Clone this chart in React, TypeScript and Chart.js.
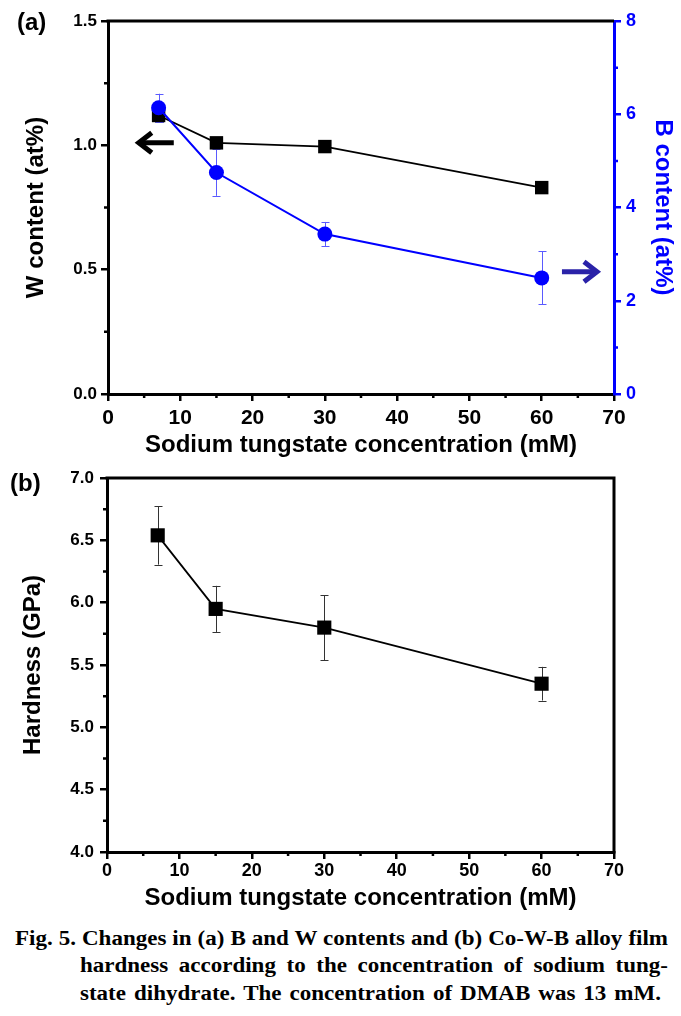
import React, { useEffect, useRef } from 'react';
import { Chart, registerables } from 'chart.js';

Chart.register(...registerables);

// ---------- data ----------
const concentrations = [7, 15, 30, 60];
const wContent = [1.12, 1.01, 0.995, 0.83];
const wError = [0.027, 0.02, 0.02, 0.02];
const bContent = [6.14, 4.75, 3.43, 2.49];
const bError = [0.3, 0.5, 0.26, 0.57];
const hardness = [6.54, 5.95, 5.8, 5.35];
const hardnessError = [0.235, 0.185, 0.26, 0.135];

const xMinorTicks = [5, 15, 25, 35, 45, 55, 65];
const wMinorTicks = [0.25, 0.75, 1.25];
const bMinorTicks = [1, 3, 5, 7];
const hMinorTicks = [4.25, 4.75, 5.25, 5.75, 6.25, 6.75];

const xTitle = 'Sodium tungstate concentration (mM)';
const wTitle = 'W content (at%)';
const bTitle = 'B content (at%)';
const hTitle = 'Hardness (GPa)';

const SANS = "'Liberation Sans', Arial, Helvetica, sans-serif";
const BLUE = '#0000ff';
const W = 681;
const H_A = 460;
const H_B = 460;

// ---------- plugins ----------
const errorBarPlugin = {
  id: 'errorBars',
  beforeDatasetsDraw(chart: any) {
    const ctx = chart.ctx;
    chart.data.datasets.forEach((ds: any, i: number) => {
      if (!ds.errorBars) return;
      const meta = chart.getDatasetMeta(i);
      const ys = chart.scales[meta.yAxisID];
      ctx.save();
      ctx.strokeStyle = ds.errorColor || '#000';
      ctx.lineWidth = 1;
      meta.data.forEach((pt: any, j: number) => {
        const v = ds.data[j].y;
        const e = ds.errorBars[j];
        const x = Math.round(pt.x) + 0.5;
        const top = ys.getPixelForValue(v + e);
        const bot = ys.getPixelForValue(v - e);
        ctx.beginPath();
        ctx.moveTo(x, top);
        ctx.lineTo(x, bot);
        ctx.moveTo(x - 4, Math.round(top) + 0.5);
        ctx.lineTo(x + 4, Math.round(top) + 0.5);
        ctx.moveTo(x - 4, Math.round(bot) + 0.5);
        ctx.lineTo(x + 4, Math.round(bot) + 0.5);
        ctx.stroke();
      });
      ctx.restore();
    });
  },
};

function minorTicks(ctx: any, scale: any, values: number[], side: string, color: string) {
  ctx.save();
  ctx.strokeStyle = color;
  ctx.lineWidth = 2.5;
  ctx.beginPath();
  values.forEach((v) => {
    const p = scale.getPixelForValue(v);
    if (side === 'bottom') {
      ctx.moveTo(p, scale.top);
      ctx.lineTo(p, scale.top + 4);
    } else if (side === 'left') {
      ctx.moveTo(scale.right, p);
      ctx.lineTo(scale.right - 4, p);
    } else {
      ctx.moveTo(scale.left, p);
      ctx.lineTo(scale.left + 4, p);
    }
  });
  ctx.stroke();
  ctx.restore();
}

function drawArrow(ctx: any, xTail: number, xTip: number, y: number, color: string) {
  const dir = xTip > xTail ? 1 : -1;
  ctx.save();
  ctx.strokeStyle = color;
  ctx.lineWidth = 5;
  ctx.lineCap = 'butt';
  ctx.lineJoin = 'miter';
  ctx.beginPath();
  ctx.moveTo(xTail, y);
  ctx.lineTo(xTip - dir * 4, y);
  ctx.stroke();
  ctx.beginPath();
  ctx.moveTo(xTip - dir * 17, y - 10);
  ctx.lineTo(xTip - dir * 4, y);
  ctx.lineTo(xTip - dir * 17, y + 10);
  ctx.stroke();
  ctx.restore();
}

function text(ctx: any, s: string, x: number, y: number, opts: any) {
  ctx.save();
  ctx.font = `bold ${opts.size}px ${SANS}`;
  ctx.fillStyle = opts.color || '#000';
  ctx.textAlign = opts.align || 'center';
  ctx.textBaseline = opts.baseline || 'middle';
  ctx.translate(x, y);
  if (opts.rotate) ctx.rotate(opts.rotate);
  ctx.fillText(s, 0, 0);
  ctx.restore();
}

const frameA = {
  id: 'frameA',
  afterDraw(chart: any) {
    const ctx = chart.ctx;
    const a = chart.chartArea;
    const { x, y, y1 } = chart.scales;
    ctx.save();
    ctx.strokeStyle = '#000';
    ctx.lineWidth = 3;
    ctx.beginPath();
    ctx.moveTo(a.left - 1.5, a.top);
    ctx.lineTo(a.right, a.top);
    ctx.stroke();
    ctx.restore();
    minorTicks(ctx, x, xMinorTicks, 'bottom', '#000');
    minorTicks(ctx, y, wMinorTicks, 'left', '#000');
    minorTicks(ctx, y1, bMinorTicks, 'right', BLUE);
    // arrows
    drawArrow(ctx, x.getPixelForValue(9.1), x.getPixelForValue(3.7), y.getPixelForValue(1.01), '#000');
    drawArrow(ctx, x.getPixelForValue(62.8), x.getPixelForValue(68.2), y1.getPixelForValue(2.62), '#2a22a8');
    // titles
    text(ctx, xTitle, (a.left + a.right) / 2, 452, { size: 24, baseline: 'alphabetic' });
    text(ctx, wTitle, 36, (a.top + a.bottom) / 2, { size: 24, rotate: -Math.PI / 2 });
    text(ctx, bTitle, 663, (a.top + a.bottom) / 2, { size: 24, rotate: Math.PI / 2, color: BLUE });
    text(ctx, '(a)', 17, 23, { size: 24, align: 'left' });
  },
};

const frameB = {
  id: 'frameB',
  afterDraw(chart: any) {
    const ctx = chart.ctx;
    const a = chart.chartArea;
    const { x, y } = chart.scales;
    ctx.save();
    ctx.strokeStyle = '#000';
    ctx.lineWidth = 3;
    ctx.beginPath();
    ctx.moveTo(a.left - 1.5, a.top);
    ctx.lineTo(a.right, a.top);
    ctx.lineTo(a.right, a.bottom + 1.5);
    ctx.stroke();
    ctx.restore();
    minorTicks(ctx, x, xMinorTicks, 'bottom', '#000');
    minorTicks(ctx, y, hMinorTicks, 'left', '#000');
    text(ctx, xTitle, (a.left + a.right) / 2, 445, { size: 24, baseline: 'alphabetic' });
    text(ctx, hTitle, 33, (a.top + a.bottom) / 2, { size: 24, rotate: -Math.PI / 2 });
    text(ctx, '(b)', 10, 24, { size: 24, align: 'left' });
  },
};

function axisCommon(color: string, size: number, padding: number) {
  return {
    ticks: { color, font: { family: SANS, weight: 'bold' as const, size }, padding },
    grid: { drawOnChartArea: false, drawTicks: true, tickLength: 7, lineWidth: 2.5, color },
    border: { display: true, color, width: 3 },
  };
}

function ChartA() {
  const ref = useRef<HTMLCanvasElement>(null);
  useEffect(() => {
    const xc = axisCommon('#000', 21, 5);
    const yc = axisCommon('#000', 17, 4);
    const y1c = axisCommon(BLUE, 18, 5);
    const chart = new Chart(ref.current!, {
      type: 'line',
      data: {
        datasets: [
          {
            label: 'W content',
            data: concentrations.map((c, i) => ({ x: c, y: wContent[i] })),
            yAxisID: 'y',
            borderColor: '#000',
            backgroundColor: '#000',
            borderWidth: 1.8,
            pointStyle: 'rect',
            pointRadius: 9.5,
            pointBorderWidth: 0,
            order: 2,
            errorBars: wError,
            errorColor: '#000',
          } as any,
          {
            label: 'B content',
            data: concentrations.map((c, i) => ({ x: c, y: bContent[i] })),
            yAxisID: 'y1',
            borderColor: BLUE,
            backgroundColor: BLUE,
            borderWidth: 2,
            pointStyle: 'circle',
            pointRadius: 7.5,
            pointBorderWidth: 0,
            order: 1,
            errorBars: bError,
            errorColor: '#5a5aff',
          } as any,
        ],
      },
      options: {
        responsive: false,
        animation: false,
        devicePixelRatio: 1,
        events: [],
        layout: { padding: { top: 21, left: 0, right: 0, bottom: 0 } },
        plugins: { legend: { display: false }, tooltip: { enabled: false } },
        scales: {
          x: {
            type: 'linear',
            min: 0,
            max: 70,
            ...xc,
            ticks: { ...xc.ticks, stepSize: 10 },
            afterFit: (s: any) => { s.height = H_A - 394; },
          },
          y: {
            type: 'linear',
            position: 'left',
            min: 0,
            max: 1.5,
            ...yc,
            ticks: { ...yc.ticks, stepSize: 0.5, callback: (v: any) => Number(v).toFixed(1) },
            afterFit: (s: any) => { s.width = 108; },
          },
          y1: {
            type: 'linear',
            position: 'right',
            min: 0,
            max: 8,
            ...y1c,
            ticks: { ...y1c.ticks, stepSize: 2 },
            afterFit: (s: any) => { s.width = W - 614; },
          },
        },
      } as any,
      plugins: [errorBarPlugin, frameA],
    });
    return () => chart.destroy();
  }, []);
  return (
    <canvas
      ref={ref}
      width={W}
      height={H_A}
      style={{ position: 'absolute', left: 0, top: 0, width: W, height: H_A }}
    />
  );
}

function ChartB() {
  const ref = useRef<HTMLCanvasElement>(null);
  useEffect(() => {
    const xc = axisCommon('#000', 18, 1);
    const yc = axisCommon('#000', 17, 6);
    const chart = new Chart(ref.current!, {
      type: 'line',
      data: {
        datasets: [
          {
            label: 'Hardness',
            data: concentrations.map((c, i) => ({ x: c, y: hardness[i] })),
            borderColor: '#000',
            backgroundColor: '#000',
            borderWidth: 1.8,
            pointStyle: 'rect',
            pointRadius: 10,
            pointBorderWidth: 0,
            errorBars: hardnessError,
            errorColor: '#333',
          } as any,
        ],
      },
      options: {
        responsive: false,
        animation: false,
        devicePixelRatio: 1,
        events: [],
        layout: { padding: { top: 18, left: 0, right: W - 614, bottom: 0 } },
        plugins: { legend: { display: false }, tooltip: { enabled: false } },
        scales: {
          x: {
            type: 'linear',
            min: 0,
            max: 70,
            ...xc,
            ticks: { ...xc.ticks, stepSize: 10 },
            afterFit: (s: any) => { s.height = H_B - 392; },
          },
          y: {
            type: 'linear',
            position: 'left',
            min: 4,
            max: 7,
            ...yc,
            ticks: { ...yc.ticks, stepSize: 0.5, callback: (v: any) => Number(v).toFixed(1) },
            afterFit: (s: any) => { s.width = 107; },
          },
        },
      } as any,
      plugins: [errorBarPlugin, frameB],
    });
    return () => chart.destroy();
  }, []);
  return (
    <canvas
      ref={ref}
      width={W}
      height={H_B}
      style={{ position: 'absolute', left: 0, top: H_A, width: W, height: H_B }}
    />
  );
}

const captionLines = [
  'Fig. 5. Changes in (a) B and W contents and (b) Co-W-B alloy film',
  'hardness according to the concentration of sodium tung-',
  'state dihydrate. The concentration of DMAB was 13 mM.',
];
const captionLeft = [15, 80, 80];
const captionRight = [668, 668, 661];
const captionBaseline = [945, 972, 1000];

function Caption() {
  const scale = 1.15;
  return (
    <>
      {captionLines.map((line, i) => (
        <div
          key={i}
          style={{
            position: 'absolute',
            left: captionLeft[i],
            top: captionBaseline[i] - 20,
            width: (captionRight[i] - captionLeft[i]) / scale,
            height: 26,
            lineHeight: '26px',
            fontFamily: "'Liberation Serif', 'Times New Roman', serif",
            fontWeight: 'bold',
            fontSize: 20,
            whiteSpace: 'nowrap',
            textAlign: 'justify',
            textAlignLast: 'justify' as any,
            transform: `scaleX(${scale})`,
            transformOrigin: 'left top',
            color: '#000',
          }}
        >
          {line}
        </div>
      ))}
    </>
  );
}

export default function App() {
  return (
    <div
      style={{
        position: 'absolute',
        left: 0,
        top: 0,
        width: W,
        height: 1016,
        background: '#fff',
        overflow: 'hidden',
      }}
    >
      <ChartA />
      <ChartB />
      <Caption />
    </div>
  );
}
